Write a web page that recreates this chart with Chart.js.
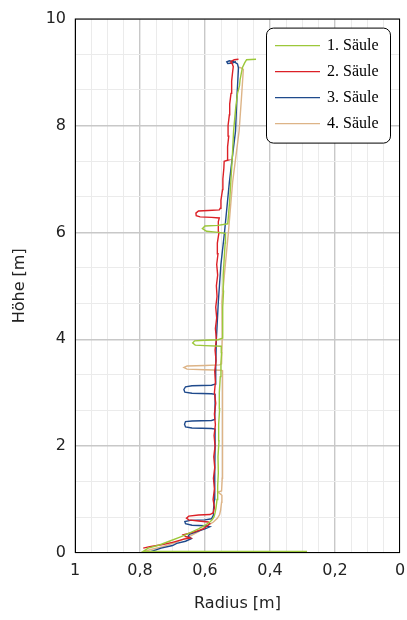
<!DOCTYPE html>
<html>
<head>
<meta charset="utf-8">
<script src="https://cdn.jsdelivr.net/npm/chart.js@4.4.1/dist/chart.umd.min.js"></script>
<style>
  body { margin: 0; background: #fff; }
  canvas { display: block; }
</style>
</head>
<body>
<canvas id="chart" width="407" height="620"></canvas>
<script>
// series names
const names = ["1. Säule", "2. Säule", "3. Säule", "4. Säule"];
const colors = ["#9cc83a", "#dc2026", "#1f4a8c", "#ddb487"];

// 1. Säule (radius, height)
const r1 = [0.286, 0.79, 0.775, 0.74, 0.71, 0.675, 0.645, 0.62, 0.60, 0.585, 0.578, 0.572, 0.569, 0.566, 0.563, 0.561, 0.559, 0.560, 0.557, 0.558, 0.555, 0.556, 0.553, 0.551, 0.549, 0.550,
  0.60, 0.630, 0.638, 0.632, 0.60, 0.56, 0.546, 0.545, 0.546, 0.543, 0.544, 0.541, 0.538, 0.537,
  0.56, 0.595, 0.608, 0.600, 0.560, 0.530, 0.528, 0.524, 0.520, 0.516, 0.512, 0.506, 0.500, 0.494, 0.492, 0.485, 0.478, 0.472, 0.443];
const h1 = [0.03, 0.03, 0.09, 0.15, 0.22, 0.30, 0.38, 0.45, 0.52, 0.58, 0.62, 0.68, 0.75, 0.85, 1.0, 1.25, 1.5, 1.8, 2.1, 2.4, 2.7, 3.0, 3.3, 3.55, 3.75, 3.87,
  3.88, 3.89, 3.93, 3.97, 3.98, 3.99, 4.02, 4.3, 4.6, 4.9, 5.2, 5.5, 5.8, 5.98,
  6.0, 6.02, 6.07, 6.12, 6.13, 6.16, 6.3, 6.6, 7.0, 7.4, 7.9, 8.3, 8.6, 8.74, 8.86, 9.08, 9.17, 9.23, 9.24];

// 2. Säule
const r2 = [0.79, 0.77, 0.73, 0.70, 0.665, 0.645, 0.66, 0.667, 0.635, 0.605, 0.585, 0.59, 0.62, 0.65, 0.657, 0.65, 0.62, 0.585, 0.575, 0.571,
  0.575, 0.571, 0.574, 0.570, 0.573, 0.569, 0.572, 0.568, 0.571, 0.567, 0.571, 0.568, 0.570, 0.566, 0.569, 0.565, 0.568, 0.564, 0.567, 0.563, 0.565, 0.561, 0.564, 0.560, 0.562, 0.557, 0.559, 0.556,
  0.58, 0.615, 0.627, 0.628, 0.620, 0.59, 0.556, 0.553,
  0.551, 0.546, 0.545, 0.542, 0.541, 0.530, 0.530, 0.531, 0.527, 0.529, 0.525, 0.524, 0.520, 0.518, 0.515, 0.513, 0.517, 0.520, 0.510, 0.497];
const h2 = [0.09, 0.12, 0.16, 0.20, 0.26, 0.28, 0.31, 0.34, 0.39, 0.45, 0.55, 0.58, 0.60, 0.62, 0.65, 0.69, 0.71, 0.72, 0.75, 0.85,
  1.0, 1.2, 1.4, 1.6, 1.8, 2.0, 2.2, 2.4, 2.6, 2.8, 3.0, 3.2, 3.4, 3.6, 3.8, 4.0, 4.2, 4.4, 4.6, 4.8, 5.0, 5.2, 5.4, 5.6, 5.8, 6.0, 6.2, 6.27,
  6.28, 6.29, 6.31, 6.36, 6.40, 6.41, 6.42, 6.45,
  6.6, 6.8, 7.0, 7.2, 7.33, 7.35, 7.4, 7.6, 7.8, 8.0, 8.2, 8.4, 8.6, 8.83, 9.0, 9.1, 9.17, 9.2, 9.23, 9.24];

// 3. Säule
const r3 = [0.78, 0.76, 0.735, 0.70, 0.687, 0.66, 0.642, 0.652, 0.648, 0.625, 0.60, 0.585, 0.60, 0.64, 0.66, 0.662, 0.645, 0.60, 0.58, 0.575, 0.574,
  0.571, 0.570, 0.569, 0.569,
  0.58, 0.64, 0.66, 0.663, 0.66, 0.64, 0.58, 0.570,
  0.569, 0.569,
  0.58, 0.64, 0.662, 0.665, 0.66, 0.64, 0.58, 0.569,
  0.567, 0.565, 0.559, 0.551, 0.540, 0.532, 0.525, 0.514, 0.506, 0.502, 0.497, 0.500, 0.510, 0.525, 0.533, 0.530, 0.515, 0.505];
const h3 = [0.0, 0.04, 0.09, 0.14, 0.18, 0.22, 0.27, 0.31, 0.35, 0.40, 0.45, 0.49, 0.51, 0.52, 0.55, 0.59, 0.61, 0.62, 0.64, 0.70, 0.80,
  1.0, 1.5, 2.0, 2.32,
  2.33, 2.34, 2.36, 2.41, 2.46, 2.47, 2.48, 2.50,
  2.8, 2.97,
  2.98, 2.99, 3.01, 3.06, 3.11, 3.13, 3.14, 3.16,
  3.5, 4.0, 4.7, 5.4, 6.0, 6.5, 6.94, 7.5, 7.9, 8.5, 9.08, 9.15, 9.19, 9.21, 9.19, 9.16, 9.17, 9.2];

// 4. Säule
const r4 = [0.80, 0.77, 0.73, 0.69, 0.65, 0.62, 0.60, 0.585, 0.574, 0.562, 0.555, 0.552, 0.549, 0.548, 0.556, 0.56, 0.549, 0.547, 0.546, 0.546, 0.546,
  0.55, 0.60, 0.655, 0.665, 0.655, 0.60, 0.555, 0.549,
  0.547, 0.548, 0.538, 0.528, 0.515, 0.495, 0.488, 0.482, 0.490, 0.497];
const h4 = [0.0, 0.06, 0.12, 0.20, 0.30, 0.40, 0.49, 0.54, 0.58, 0.65, 0.72, 0.80, 0.95, 1.08, 1.12, 1.14, 1.16, 1.4, 2.0, 2.8, 3.41,
  3.42, 3.43, 3.44, 3.47, 3.50, 3.51, 3.52, 3.54,
  4.0, 4.7, 5.36, 6.0, 6.94, 7.9, 8.5, 9.05, 9.08, 9.09];

const radii = [r1, r2, r3, r4];
const heights = [h1, h2, h3, h4];

// axis ticks
const xMajorLabels = ["0", "0,2", "0,4", "0,6", "0,8", "1"];
const yMajorLabels = ["0", "2", "4", "6", "8", "10"];

const xTickValues = [];
for (let i = 0; i <= 20; i++) xTickValues.push(i * 0.05);
const yTickValues = [];
for (let i = 0; i <= 15; i++) yTickValues.push(i * 2 / 3);

const tickFont = { family: "DejaVu Sans", size: 16 };

const datasets = names.map(function (name, i) {
  return {
    label: name,
    data: radii[i].map((r, k) => ({ x: r, y: heights[i][k] })),
    borderColor: colors[i],
    backgroundColor: colors[i],
    borderWidth: 1.4,
    pointRadius: 0,
    showLine: true,
    tension: 0,
  };
});

// frame + legend box like the original
const framePlugin = {
  id: "frame",
  afterDraw(chart) {
    const { ctx, chartArea: a } = chart;
    ctx.save();
    ctx.strokeStyle = "#000";
    ctx.lineWidth = 1;
    ctx.strokeRect(a.left + 0.5, a.top + 0.5, a.right - a.left - 1, a.bottom - a.top - 1);

    const bx = a.right - 134, by = a.top + 9, bw = 124, bh = 115;
    ctx.beginPath();
    ctx.roundRect(bx + 0.5, by + 0.5, bw, bh, 7);
    ctx.fillStyle = "#fff";
    ctx.fill();
    ctx.stroke();

    ctx.font = "16px 'Liberation Serif'";
    ctx.textBaseline = "middle";
    names.forEach(function (name, i) {
      const y = by + 18 + i * 26;
      ctx.beginPath();
      ctx.strokeStyle = colors[i];
      ctx.lineWidth = 1.4;
      ctx.moveTo(bx + 9, y);
      ctx.lineTo(bx + 54, y);
      ctx.stroke();
      ctx.fillStyle = "#000";
      ctx.fillText(name, bx + 61, y);
    });
    ctx.restore();
  },
};

const canvasRef = document.getElementById("chart");

const myChart = new Chart(canvasRef, {
  type: "scatter",
  data: { datasets: datasets },
  options: {
    responsive: false,
    animation: false,
    layout: { padding: { top: 15, right: 7, left: 0, bottom: 0 } },
    plugins: { legend: { display: false }, tooltip: { enabled: false } },
    scales: {
      x: {
        type: "linear",
        min: 0,
        max: 1,
        reverse: true,
        afterFit: (s) => { s.height = 67; },
        afterBuildTicks: (s) => { s.ticks = xTickValues.map((v) => ({ value: v })); },
        grid: {
          drawTicks: false,
          color: (c) => (c.index % 4 === 0 ? "#c8c8c8" : "#ebebeb"),
          lineWidth: (c) => (c.index % 4 === 0 ? 1.4 : 1),
        },
        border: { display: false },
        ticks: {
          autoSkip: false,
          maxRotation: 0,
          padding: 8,
          color: "#222",
          font: tickFont,
          callback: (v, i) => (i % 4 === 0 ? xMajorLabels[i / 4] : ""),
        },
        title: { display: true, text: "Radius [m]", color: "#222", font: tickFont, padding: { bottom: 7 } },
      },
      y: {
        type: "linear",
        min: 0,
        max: 10,
        afterFit: (s) => { s.width = 75; },
        afterBuildTicks: (s) => { s.ticks = yTickValues.map((v) => ({ value: v })); },
        grid: {
          drawTicks: false,
          color: (c) => (c.index % 3 === 0 ? "#c8c8c8" : "#ebebeb"),
          lineWidth: (c) => (c.index % 3 === 0 ? 1.4 : 1),
        },
        border: { display: false },
        ticks: {
          autoSkip: false,
          padding: 9,
          color: "#222",
          font: tickFont,
          callback: (v, i) => (i % 3 === 0 ? yMajorLabels[i / 3] : ""),
        },
        title: { display: true, text: "Höhe [m]", color: "#222", font: tickFont, padding: { top: 10 } },
      },
    },
  },
  plugins: [framePlugin],
});
</script>
</body>
</html>
